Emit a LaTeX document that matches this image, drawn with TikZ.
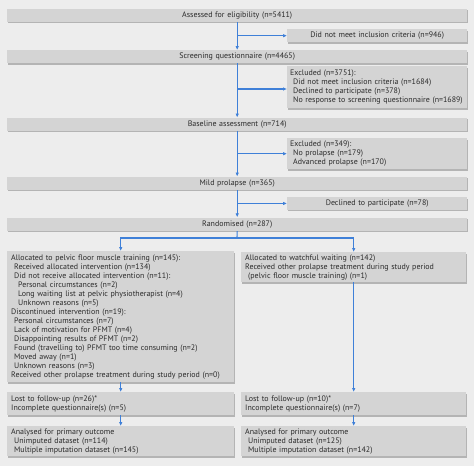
\documentclass[tikz,border=0pt]{standalone}
\usepackage{fontspec}
\setmainfont{PT Sans}
\usetikzlibrary{arrows.meta,shadows}
\definecolor{bgc}{HTML}{EDEDED}
\definecolor{boxc}{HTML}{D4D4D4}
\definecolor{shadc}{HTML}{B4B4B4}
\definecolor{txtc}{HTML}{2A2A2A}
\definecolor{arrc}{HTML}{3F80D8}
\tikzset{
  box/.style={draw=none, fill=boxc, anchor=north west, inner xsep=4pt, inner ysep=0pt,
    text=txtc, font=\fontsize{7.95}{9}\selectfont,
    drop shadow={shadow xshift=0.8pt, shadow yshift=-1.3pt, fill=shadc, opacity=1}},
  cbox/.style={box, align=center},
  lbox/.style={box, align=left},
  conn/.style={draw=arrc, line width=1.1pt},
  arr/.style={conn, -{Latex[length=4pt,width=3.6pt]}},
}
\newcommand{\ia}{\hspace*{3pt}}
\newcommand{\ib}{\hspace*{7pt}}
\begin{document}
\begin{tikzpicture}[x=1pt,y=-1pt]
\fill[bgc] (0,0) rectangle (474,466);
\useasboundingbox (0,0) rectangle (474,466);
% top column
\node[cbox, minimum width=460pt, minimum height=13pt, text width=452pt] (assess) at (7,8.5) {Assessed for eligibility (n=5411)};
\node[cbox, minimum width=180pt, minimum height=13pt, text width=172pt] (dnm) at (287,29) {Did not meet inclusion criteria (n=946)};
\node[cbox, minimum width=460pt, minimum height=13pt, text width=452pt] (screen) at (7,50) {Screening questionnaire (n=4465)};
\node[lbox, minimum width=180pt, minimum height=42pt, text width=174pt, inner xsep=3pt] (excl1) at (287,66) {Excluded (n=3751):\\ \ia Did not meet inclusion criteria (n=1684)\\ \ia Declined to participate (n=378)\\ \ia No response to screening questionnaire (n=1689)};
\node[cbox, minimum width=460pt, minimum height=13pt, text width=452pt] (base) at (7,117.5) {Baseline assessment (n=714)};
\node[lbox, minimum width=180pt, minimum height=31pt, text width=174pt, inner xsep=3pt] (excl2) at (287,138) {Excluded (n=349):\\ \ia No prolapse (n=179)\\ \ia Advanced prolapse (n=170)};
\node[cbox, minimum width=460pt, minimum height=13pt, text width=452pt] (mild) at (7,176.5) {Mild prolapse (n=365)};
\node[cbox, minimum width=180pt, minimum height=12.5pt, text width=172pt] (decl) at (287,197) {Declined to participate (n=78)};
\node[cbox, minimum width=460pt, minimum height=13.5pt, text width=452pt] (rand) at (7,217.3) {Randomised (n=287)};
% left arm
\node[lbox, minimum width=227pt, minimum height=131pt, text width=219pt] (alloc) at (7,251) {Allocated to pelvic floor muscle training (n=145):\\
\ia Received allocated intervention (n=134)\\
\ia Did not receive allocated intervention (n=11):\\
\ib Personal circumstances (n=2)\\
\ib Long waiting list at pelvic physiotherapist (n=4)\\
\ib Unknown reasons (n=5)\\
Discontinued intervention (n=19):\\
\ia Personal circumstances (n=7)\\
\ia Lack of motivation for PFMT (n=4)\\
\ia Disappointing results of PFMT (n=2)\\
\ia Found (travelling to) PFMT too time consuming (n=2)\\
\ia Moved away (n=1)\\
\ia Unknown reasons (n=3)\\
Received other prolapse treatment during study period (n=0)};
\node[lbox, minimum width=227pt, minimum height=23pt, text width=219pt] (lostl) at (7,392) {Lost to follow-up (n=26)*\\ Incomplete questionnaire(s) (n=5)};
\node[lbox, minimum width=227pt, minimum height=30pt, text width=219pt] (anal) at (7,426) {Analysed for primary outcome\\ \ia Unimputed dataset (n=114)\\ \ia Multiple imputation dataset (n=145)};
% right arm
\node[lbox, minimum width=225pt, minimum height=30pt, text width=217pt] (watch) at (241,252) {Allocated to watchful waiting (n=142)\\ Received other prolapse treatment during study period\\ \ia (pelvic floor muscle training) (n=1)};
\node[lbox, minimum width=225pt, minimum height=23pt, text width=217pt] (lostr) at (241,392) {Lost to follow-up (n=10)*\\ Incomplete questionnaire(s) (n=7)};
\node[lbox, minimum width=225pt, minimum height=30pt, text width=217pt] (anar) at (241,426) {Analysed for primary outcome\\ \ia Unimputed dataset (n=125)\\ \ia Multiple imputation dataset (n=142)};
% connectors
\coordinate (b2) at (237,89);
\coordinate (split) at (237,238);
\draw[arr] (assess.south) -- (screen.north);
\draw[arr] (screen.south) -- (base.north);
\draw[arr] (base.south) -- (mild.north);
\draw[arr] (mild.south) -- (rand.north);
\draw[arr] (dnm.west -| assess.south) -- (dnm.west);
\draw[arr] (b2) -- (b2 -| excl1.west);
\draw[arr] (excl2.west -| base.south) -- (excl2.west);
\draw[arr] (decl.west -| mild.south) -- (decl.west);
\draw[conn] (rand.south) -- (split);
\draw[arr] (split) -| (alloc.north);
\draw[arr] (split) -| (watch.north);
\draw[arr] (alloc.south) -- (lostl.north);
\draw[arr] (lostl.south) -- (anal.north);
\draw[arr] (watch.south) -- (lostr.north);
\draw[arr] (lostr.south) -- (anar.north);
\end{tikzpicture}
\end{document}
